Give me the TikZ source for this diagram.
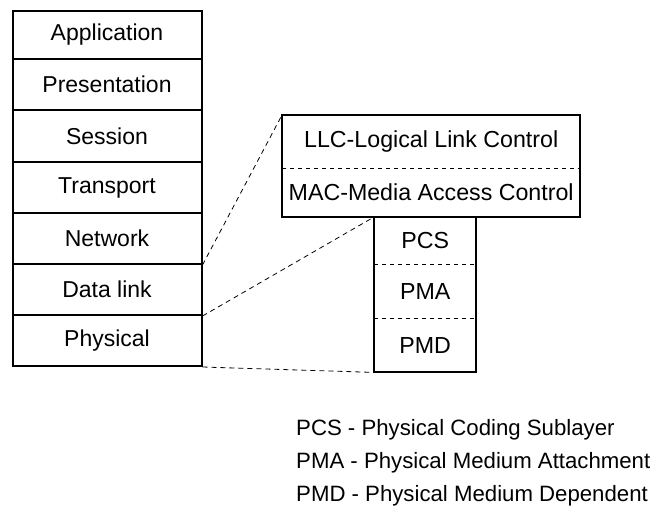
\documentclass[tikz,border=0pt]{standalone}
\usepackage{fontspec}
\setmainfont{Liberation Sans}
\begin{document}
\begin{tikzpicture}[x=1pt,y=-1pt,
  layer/.style={draw,line width=2pt,minimum width=189pt,inner sep=0pt,font=\fontsize{23}{26}\selectfont,anchor=north west},
  sub/.style={inner sep=0pt,font=\fontsize{23.2}{26}\selectfont,anchor=north west},
  frame/.style={line width=2pt},
  sep/.style={line width=1.6pt,dash pattern=on 4pt off 4pt},
  conn/.style={line width=0.8pt,dash pattern=on 5pt off 4pt},
  legend/.style={inner sep=0pt,anchor=base west,font=\fontsize{22.2}{26}\selectfont}]
\useasboundingbox (0,0) rectangle (668,510);
% OSI stack
\node[layer,minimum height=48pt] (app) at (11.5,10) {Application};
\node[layer,minimum height=51pt] (pres) at (11.5,58) {Presentation};
\node[layer,minimum height=52pt] (ses) at (11.5,109) {Session};
\node[layer,minimum height=51pt] (tra) at (11.5,161) {Transport};
\node[layer,minimum height=51pt] (net) at (11.5,212) {Network};
\node[layer,minimum height=51pt] (dl) at (11.5,263) {Data link};
\node[layer,minimum height=51pt] (phy) at (11.5,314) {Physical};
% data link sublayers
\node[sub,minimum width=298pt,minimum height=53pt] (llc) at (282,115) {LLC-Logical Link Control};
\node[sub,minimum width=298pt,minimum height=49pt] (mac) at (282,168) {MAC-Media Access Control};
\draw[frame] (llc.north west) rectangle (mac.south east);
\draw[sep] (llc.south west) -- (llc.south east);
% physical sublayers
\node[sub,minimum width=102pt,minimum height=47pt] (pcs) at (374,217) {PCS};
\node[sub,minimum width=102pt,minimum height=54pt] (pma) at (374,264) {PMA};
\node[sub,minimum width=102pt,minimum height=54pt] (pmd) at (374,318) {PMD};
\draw[frame] (pcs.north west) rectangle (pmd.south east);
\draw[sep] (pcs.south west) -- (pcs.south east);
\draw[sep] (pma.south west) -- (pma.south east);
% connectors
\draw[conn] (net.south east) -- (llc.north west);
\draw[conn] (dl.south east) -- (pcs.north west);
\draw[conn] (phy.south east) -- (pmd.south west);
% legend
\node[legend] (l1) at (296,435) {PCS - Physical Coding Sublayer};
\node[legend] (l2) at (296,468) {PMA - Physical Medium Attachment};
\node[legend] (l3) at (296,501) {PMD - Physical Medium Dependent};
\end{tikzpicture}
\end{document}
